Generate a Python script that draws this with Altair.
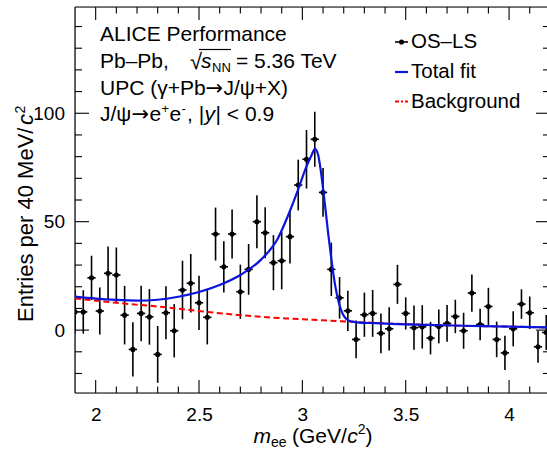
import altair as alt
import pandas as pd

FONT = "Liberation Sans"
SYM = "DejaVu Sans"

# ---------------- data ----------------
mass = [1.90, 1.94, 1.98, 2.02, 2.06, 2.10, 2.14, 2.18, 2.22, 2.26,
        2.30, 2.34, 2.38, 2.42, 2.46, 2.50, 2.54, 2.58, 2.62, 2.66,
        2.70, 2.74, 2.78, 2.82, 2.86, 2.90, 2.94, 2.98, 3.02, 3.06,
        3.10, 3.14, 3.18, 3.22, 3.26, 3.30, 3.34, 3.38, 3.42, 3.46,
        3.50, 3.54, 3.58, 3.62, 3.66, 3.70, 3.74, 3.78, 3.82, 3.86,
        3.90, 3.94, 3.98, 4.02, 4.06, 4.10, 4.14, 4.18]
entries = [8.4, 8.4, 24.1, 8.8, 26.2, 25.4, 6.9, -8.9, 7.7, 6.1,
           -11.2, 8.0, -0.3, 18.5, 21.6, 12.6, 5.9, 44.3, 29.2, 44.3,
           17.7, 28.0, 50.0, 44.9, 31.1, 32.0, 43.1, 66.9, 78.8, 88.0,
           63.5, 28.0, 14.9, 8.9, -4.3, 7.1, 7.7, -1.5, 0.6, 21.1,
           7.7, 1.1, 1.5, -3.7, 1.7, 3.1, 6.3, -0.3, 17.1, 2.6,
           10.9, -4.3, -10.5, 0.6, 12.0, 8.0, -7.7, -1.1]
errors = [10.0, 10.0, 10.2, 10.8, 12.3, 12.7, 13.5, 12.5, 12.8, 12.8,
          13.1, 12.2, 12.3, 13.5, 13.5, 12.5, 12.5, 12.2, 11.8, 11.3,
          12.5, 11.7, 12.2, 11.8, 12.7, 13.2, 12.4, 11.7, 13.5, 12.7,
          11.2, 12.3, 9.6, 9.3, 8.7, 10.2, 10.8, 9.2, 10.0, 9.0,
          7.4, 10.2, 10.0, 7.5, 7.8, 8.5, 7.7, 8.3, 8.6, 7.3,
          8.6, 8.2, 7.9, 8.1, 6.8, 7.5, 7.3, 8.1]

fit_mass = [1.90, 2.00, 2.10, 2.20, 2.30, 2.40, 2.50, 2.60, 2.70, 2.80,
            2.88, 2.94, 2.98, 3.02, 3.045, 3.061, 3.077, 3.093, 3.109, 3.125,
            3.142, 3.158, 3.174, 3.19, 3.206, 3.222, 3.24, 3.263, 3.35, 3.46,
            3.6, 3.78, 4.0, 4.2]
fit_val = [15.4, 14.5, 13.9, 13.6, 14.0, 15.4, 17.6, 20.8, 25.4, 32.5,
           42.0, 55.0, 65.0, 75.5, 80.8, 83.6, 80.5, 70.7, 58.0, 44.5,
           31.5, 21.0, 13.5, 8.5, 5.8, 4.5, 3.9, 3.6, 3.2, 2.8,
           2.4, 2.0, 1.6, 1.2]

bkg_mass = [1.90, 2.10, 2.31, 2.50, 2.70, 2.92, 3.10, 3.25, 3.46, 3.78, 4.00, 4.20]
bkg_val = [14.6, 12.6, 10.8, 8.8, 6.9, 5.4, 4.5, 3.8, 2.9, 2.0, 1.6, 1.2]

x_labels = [2.0, 2.5, 3.0, 3.5, 4.0]
x_minor = [2.1, 2.2, 2.3, 2.4, 2.6, 2.7, 2.8, 2.9, 3.1, 3.2, 3.3, 3.4,
           3.6, 3.7, 3.8, 3.9, 4.1]
y_labels = [0, 50, 100]
y_minor = [-20, -10, 10, 20, 30, 40, 60, 70, 80, 90, 110, 120, 130, 140]

# ---------------- layout ----------------
W, H = 472, 386
BLUE = "#0a14dc"
RED = "#ff0000"
xs = alt.Scale(domain=[1.9, 4.1835], nice=False, zero=False)
ys = alt.Scale(domain=[-29, 149], nice=False, zero=False)

xaxis = alt.Axis(values=x_labels, format="~g", title=None, domain=False, ticks=False,
                 tickSize=0, grid=False, labelFontSize=19, labelPadding=12,
                 labelFont=FONT, labelColor="black", labelOverlap=False, labelFlush=False)
yaxis = alt.Axis(values=y_labels, title=None, domain=False, ticks=False, tickSize=0,
                 grid=False, labelFontSize=19, labelPadding=10.5, labelFont=FONT,
                 labelColor="black", labelOverlap=False, labelFlush=False)

df = pd.DataFrame({"mass": mass, "entries": entries, "err": errors})
fit_df = pd.DataFrame({"mass": fit_mass, "val": fit_val})
bkg_df = pd.DataFrame({"mass": bkg_mass, "val": bkg_val})

pts = alt.Chart(df).transform_calculate(
    lo="datum.entries - datum.err", hi="datum.entries + datum.err",
    xl="datum.mass - 0.02", xr="datum.mass + 0.02")

vbars = pts.mark_rule(color="black", strokeWidth=1.6, clip=True).encode(
    x=alt.X("mass:Q", scale=xs, axis=xaxis),
    y=alt.Y("lo:Q", scale=ys, axis=yaxis), y2="hi:Q")
hbars = pts.mark_rule(color="black", strokeWidth=1.6, clip=True).encode(
    x=alt.X("xl:Q", scale=xs, axis=xaxis), x2="xr:Q",
    y=alt.Y("entries:Q", scale=ys, axis=yaxis))
dots = pts.mark_point(filled=True, shape="circle", size=26, color="black",
                      opacity=1, clip=True).encode(
    x=alt.X("mass:Q", scale=xs, axis=xaxis),
    y=alt.Y("entries:Q", scale=ys, axis=yaxis))

bkg = alt.Chart(bkg_df).mark_line(color=RED, strokeWidth=2, strokeDash=[6, 3.5],
                                  interpolate="monotone", clip=True).encode(
    x=alt.X("mass:Q", scale=xs, axis=xaxis),
    y=alt.Y("val:Q", scale=ys, axis=yaxis))
fit = alt.Chart(fit_df).mark_line(color=BLUE, strokeWidth=2.2,
                                  interpolate="monotone", clip=True).encode(
    x=alt.X("mass:Q", scale=xs, axis=xaxis),
    y=alt.Y("val:Q", scale=ys, axis=yaxis))

# ---------------- frame and inward ticks ----------------
one = pd.DataFrame({"a": [0]})
frame = [
    alt.Chart(one).mark_rule(color="black", strokeWidth=1.2).encode(
        x=alt.value(0), y=alt.value(0), y2=alt.value(H)),
    alt.Chart(one).mark_rule(color="black", strokeWidth=1.2).encode(
        x=alt.value(0), x2=alt.value(W + 5), y=alt.value(0)),
    alt.Chart(one).mark_rule(color="black", strokeWidth=1.2).encode(
        x=alt.value(0), x2=alt.value(W + 5), y=alt.value(H)),
]

def xticks(vals, length):
    d = pd.DataFrame({"v": vals})
    b = alt.Chart(d).mark_rule(color="black", strokeWidth=1.1).encode(
        x=alt.X("v:Q", scale=xs, axis=xaxis), y=alt.value(H), y2=alt.value(H - length))
    t = alt.Chart(d).mark_rule(color="black", strokeWidth=1.1).encode(
        x=alt.X("v:Q", scale=xs, axis=xaxis), y=alt.value(0), y2=alt.value(length))
    return [b, t]

def yticks(vals, length):
    d = pd.DataFrame({"v": vals})
    l = alt.Chart(d).mark_rule(color="black", strokeWidth=1.1).encode(
        y=alt.Y("v:Q", scale=ys, axis=yaxis), x=alt.value(0), x2=alt.value(length))
    r = alt.Chart(d).mark_rule(color="black", strokeWidth=1.1).encode(
        y=alt.Y("v:Q", scale=ys, axis=yaxis), x=alt.value(W + 3 - length), x2=alt.value(W + 5))
    return [l, r]

ticks = xticks(x_labels, 13) + xticks(x_minor, 6.5) + yticks(y_labels, 14) + yticks(y_minor, 7)

# ---------------- texts ----------------
def txt(s, x, y, size=21, style="normal", align="left", angle=0, baseline="alphabetic",
        font=FONT):
    return alt.Chart(one).mark_text(text=s, fontSize=size, font=font, fontStyle=style,
                                    align=align, baseline=baseline, angle=angle,
                                    color="black").encode(x=alt.value(x), y=alt.value(y))

texts = [
    txt("ALICE Performance", 25, 33.5),
    txt("Pb–Pb,", 25, 60.5),
    txt("√", 115, 61.5, size=22),
    txt("s", 126, 60.5, style="italic"),
    txt("NN", 137, 64.5, size=13),
    txt("= 5.36 TeV", 161, 60.5),
    txt("UPC (γ+Pb", 25, 87.5),
    txt("→", 130.5, 87.5, font=SYM),
    txt("J/ψ+X)", 148.5, 87.5),
    txt("J/ψ", 25, 113.5),
    txt("→", 56.5, 113.5, font=SYM),
    txt("e", 74.5, 113.5),
    txt("+", 86.5, 105.5, size=13),
    txt("e", 94.5, 113.5),
    txt("-", 106.5, 105.5, size=13),
    txt(", |", 112, 113.5),
    txt("y", 129.5, 113.5, style="italic"),
    txt("| < 0.9", 140.5, 113.5),
    # legend
    txt("OS–LS", 336, 35, size=20.5, baseline="middle"),
    txt("Total fit", 336, 65, size=20.5, baseline="middle"),
    txt("Background", 336, 94.5, size=20.5, baseline="middle"),
    # x title
    txt("m", 178.5, 435.5, style="italic"),
    txt("ee", 196, 439.5, size=14),
    txt("(GeV/", 217, 435.5),
    txt("c", 272.3, 435.5, style="italic"),
    txt("2", 282.8, 427, size=14),
    txt(")", 290.6, 435.5),
    # y title (rotated)
    txt("Entries per 40 MeV/", -42, 315, size=22, angle=270),
    txt("c", -42, 118, size=22, style="italic", angle=270),
    txt("2", -50, 106.5, size=14, angle=270),
]

overline = alt.Chart(one).mark_rule(color="black", strokeWidth=1.2).encode(
    x=alt.value(124), x2=alt.value(156), y=alt.value(42.5))

legend_marks = [
    alt.Chart(one).mark_rule(color="black", strokeWidth=1.6).encode(
        x=alt.value(320), x2=alt.value(333), y=alt.value(35)),
    alt.Chart(one).mark_point(filled=True, shape="circle", size=26, color="black",
                              opacity=1).encode(x=alt.value(326.5), y=alt.value(35)),
    alt.Chart(one).mark_rule(color=BLUE, strokeWidth=2.2).encode(
        x=alt.value(320), x2=alt.value(333), y=alt.value(65)),
    alt.Chart(one).mark_rule(color=RED, strokeWidth=2, strokeDash=[4, 2, 2, 2]).encode(
        x=alt.value(320), x2=alt.value(333), y=alt.value(94.5)),
]

chart = alt.layer(
    *frame, *ticks, vbars, hbars, dots, bkg, fit, *texts, overline, *legend_marks
).properties(
    width=W, height=H,
    autosize=alt.AutoSizeParams(type="none"),
    padding={"left": 75, "top": 7, "right": 0, "bottom": 56},
).configure_view(stroke=None).configure(background="white")

chart.save("out.html", embed_options={"renderer": "svg", "actions": False})
